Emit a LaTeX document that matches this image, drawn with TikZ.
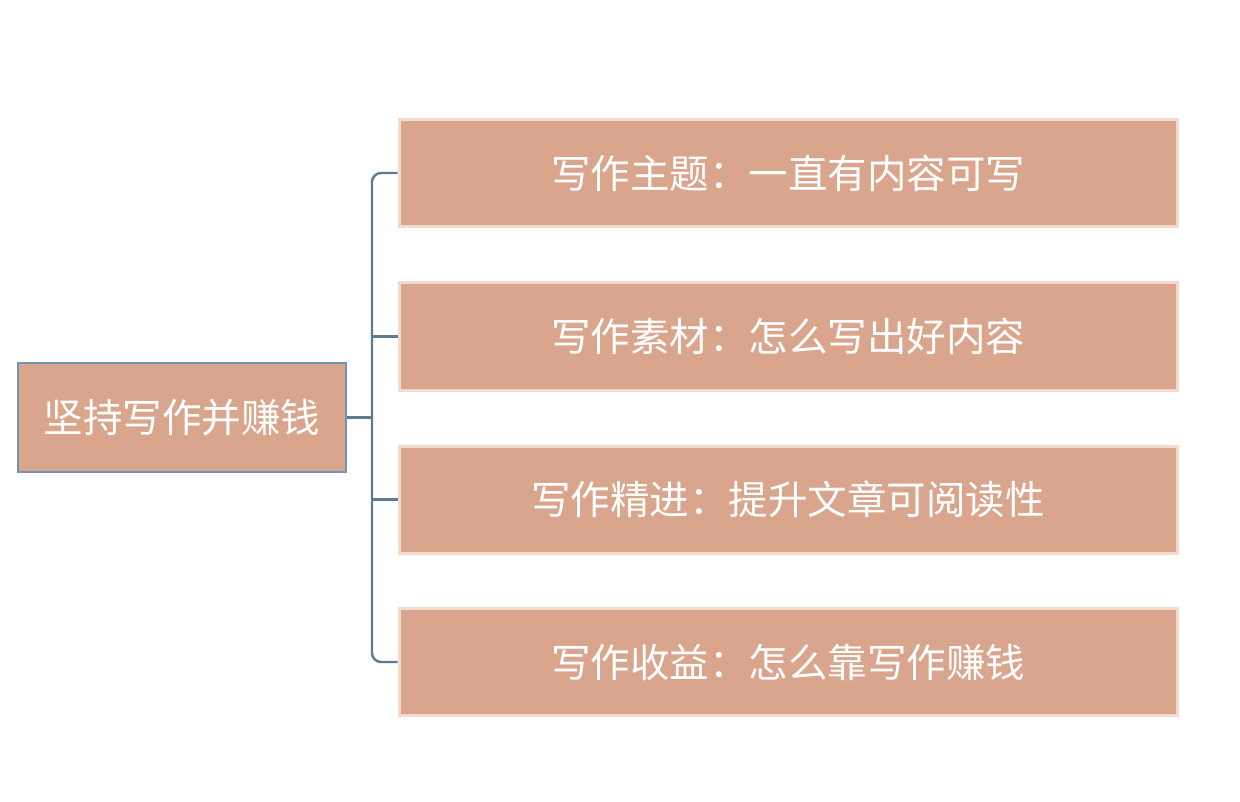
\documentclass[tikz,border=0pt]{standalone}
\usepackage{fontspec}
\newfontfamily\cjk{Noto Sans CJK SC}
\definecolor{boxfill}{HTML}{D9A68D}
\definecolor{rootborder}{HTML}{7394B4}
\definecolor{childborder}{HTML}{F4D9CD}
\definecolor{linkcol}{HTML}{5F7B94}
\begin{document}
\begin{tikzpicture}[x=1pt,y=-1pt,
  rootbox/.style={draw=rootborder,line width=2pt,fill=boxfill,minimum width=328pt,minimum height=109pt,inner sep=0pt,text=white,font=\cjk\fontsize{39.5}{44}\selectfont},
  childbox/.style={draw=childborder,line width=3pt,fill=boxfill,minimum width=778pt,minimum height=107pt,inner sep=0pt,text=white,font=\cjk\fontsize{39.5}{44}\selectfont},
  link/.style={draw=linkcol,line width=2.4pt,rounded corners=9pt}]
\useasboundingbox (0,0) rectangle (1240,802);
\fill[white] (0,0) rectangle (1240,802);
\node[rootbox] (root) at (182,417.5) {坚持写作并赚钱};
\node[childbox] (c1) at (788,173) {写作主题：一直有内容可写};
\node[childbox] (c2) at (788,336.5) {写作素材：怎么写出好内容};
\node[childbox] (c3) at (788,499.5) {写作精进：提升文章可阅读性};
\node[childbox] (c4) at (788,662) {写作收益：怎么靠写作赚钱};
\coordinate (bx) at (372,417.5);
\draw[link] (c1.west) -- (372,173) -- (372,662) -- (c4.west);
\draw[link,rounded corners=0pt] (c2.west) -- (372,336.5);
\draw[link,rounded corners=0pt] (c3.west) -- (372,499.5);
\draw[link,rounded corners=0pt] (root.east) -- (366,417.5) -- (bx);
\end{tikzpicture}
\end{document}
